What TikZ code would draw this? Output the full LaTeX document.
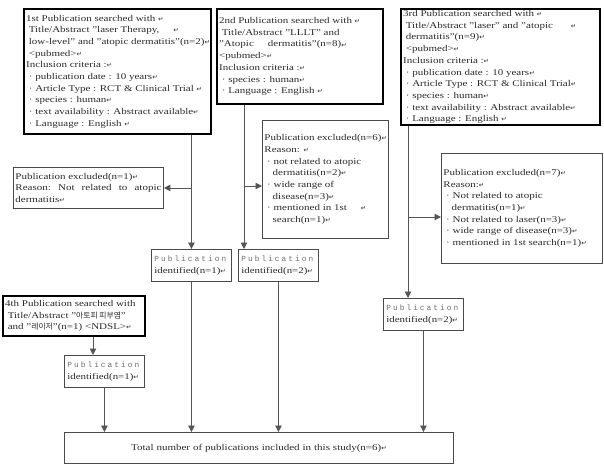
\documentclass[tikz,border=0pt]{standalone}
\usepackage{fontspec}
\setmainfont[FakeStretch=1.25]{Liberation Serif}
\newfontfamily\krfont{Noto Sans CJK KR}
\newfontfamily\symfont{DejaVu Sans}
\newfontfamily\spfont[LetterSpace=26]{Liberation Mono}
\usetikzlibrary{arrows.meta}
\definecolor{txt}{HTML}{2A2A2A}
\definecolor{bdr}{HTML}{4A4A4A}
\definecolor{lnc}{HTML}{555555}
\newcommand{\rt}{{\symfont\fontsize{6.5}{6.5}\selectfont ↵}}
\newcommand{\kr}[1]{{\krfont\fontsize{7.8}{7.8}\selectfont #1}}
\newcommand{\fs}{\fontsize{8.8}{11.7}\selectfont}
\newcommand{\nb}[1]{\mbox{#1}}
\newcommand{\pub}{{\spfont\fontsize{7.8}{11.7}\selectfont \textcolor{gray!85!black}{Publication}}}
\newcommand{\idl}[1]{\nb{\fontsize{8.7}{11.7}\selectfont #1}}
\tikzset{
  thickbox/.style={draw=black, line width=2.2pt, inner xsep=2pt, inner ysep=1pt,
    align=flush left, anchor=north west, text=txt, font=\fs},
  thinbox/.style={draw=bdr, line width=0.9pt, inner xsep=2pt, inner ysep=1pt,
    align=flush left, anchor=north west, text=txt, font=\fs},
  idbox/.style={thinbox, inner xsep=3pt, text width=74pt, minimum height=32pt},
  con/.style={draw=lnc, line width=0.9pt, -{Triangle[width=6.5pt,length=6.5pt]}}
}
\begin{document}
\begin{tikzpicture}[x=1pt,y=-1pt]
\useasboundingbox (0,0) rectangle (604,473);
% search boxes
\node[thickbox, text width=183pt, minimum height=125pt] (b1) at (23,8)
{\nb{1st Publication searched with \rt}\\
\nb{\ Title/Abstract "laser Therapy,\hspace{14pt}\rt}\\
\nb{\ low-level" and "atopic dermatitis"(n=2)\rt}\\
\ <pubmed>\rt\\
Inclusion criteria :\rt\\
\nb{\ · publication date : 10 years\rt}\\
\nb{\ · Article Type : RCT \& Clinical Trial \rt}\\
\ · species : human\rt\\
\nb{\ · text availability : Abstract available\rt}\\
\nb{\ · Language : English \rt}};
\node[thickbox, text width=162pt, minimum height=95pt] (b2) at (216,8)
{\nb{2nd Publication searched with \rt}\\
\nb{\ Title/Abstract "LLLT" and}\\
\nb{"Atopic\hspace{14pt}dermatitis"(n=8)\rt}\\
<pubmed>\rt\\
Inclusion criteria :\rt\\
\ · species : human\rt\\
\nb{\ · Language : English \rt}};
\node[thickbox, text width=195pt, minimum height=116pt] (b3) at (400,8)
{\nb{3rd Publication searched with \rt}\\
\nb{\ Title/Abstract "laser" and "atopic\hspace{18pt}\rt}\\
\ dermatitis"(n=9)\rt\\
\ <pubmed>\rt\\
Inclusion criteria :\rt\\
\nb{\ · publication date : 10 years\rt}\\
\nb{\ · Article Type : RCT \& Clinical Trial\rt}\\
\ · species : human\rt\\
\nb{\ · text availability : Abstract available\rt}\\
\nb{\ · Language : English \rt}};
\node[thickbox, text width=138pt, minimum height=40pt] (b4) at (2,295)
{\nb{4th Publication searched with}\\
\nb{\ Title/Abstract "\kr{아토피 피부염}"}\\
\nb{\ and "\kr{레이저}"(n=1) <NDSL>\rt}};
% excluded boxes
\node[thinbox, text width=146pt, minimum height=41pt] (ex1) at (13,167)
{\nb{Publication excluded(n=1)\rt}\\
Reason:\hfill Not\hfill related\hfill to\hfill atopic\\
dermatitis\rt};
\node[thinbox, text width=122pt, minimum height=118pt] (ex2) at (262,120)
{\nb{Publication excluded(n=6)\rt}\\
Reason: \rt\\
\nb{\ · not related to atopic}\\
\ \ \ dermatitis(n=2)\rt\\
\ · wide range of\\
\ \ \ disease(n=3)\rt\\
\nb{\ · mentioned in 1st\hspace{14pt}\rt}\\
\ \ \ search(n=1)\rt};
\node[thinbox, text width=157pt, minimum height=110pt] (ex3) at (441,153)
{\nb{Publication excluded(n=7)\rt}\\
Reason:\rt\\
\nb{\ · Not related to atopic}\\
\ \ \ dermatitis(n=1)\rt\\
\nb{\ · Not related to laser(n=3)\rt}\\
\nb{\ · wide range of disease(n=3)\rt}\\
\nb{\ · mentioned in 1st search(n=1)\rt}};
% identified boxes
\node[idbox] (id1) at (151,249) {\pub\\\idl{identified(n=1)\rt}};
\node[idbox] (id2) at (238,249) {\pub\\\idl{identified(n=2)\rt}};
\node[idbox] (id3) at (383,298) {\pub\\\idl{identified(n=2)\rt}};
\node[idbox] (id4) at (64,355) {\pub\\\idl{identified(n=1)\rt}};
% total
\node[thinbox, align=center, text width=385pt, minimum height=31pt] (tot) at (64,432)
{Total number of publications included in this study(n=6)\rt};
% helper coordinates
\coordinate (x2) at (244,0);
\coordinate (y2) at (0,186);
\coordinate (x3) at (408,0);
\coordinate (y3) at (0,217);
\coordinate (x4) at (93,0);
% connectors
\draw[con] (b1.south -| id1.north) -- (id1.north);
\draw[con] (ex1.east -| id1.north) -- (ex1.east);
\draw[con] (b2.south -| x2) -- (id2.north -| x2);
\draw[con] (x2 |- y2) -- (ex2.west |- y2);
\draw[con] (b3.south -| x3) -- (id3.north -| x3);
\draw[con] (x3 |- y3) -- (ex3.west |- y3);
\draw[con] (b4.south -| x4) -- (id4.north -| x4);
\draw[con] (id4.south) -- (tot.north -| id4.south);
\draw[con] (id1.south) -- (tot.north -| id1.south);
\draw[con] (id2.south) -- (tot.north -| id2.south);
\draw[con] (id3.south) -- (tot.north -| id3.south);
\end{tikzpicture}
\end{document}
